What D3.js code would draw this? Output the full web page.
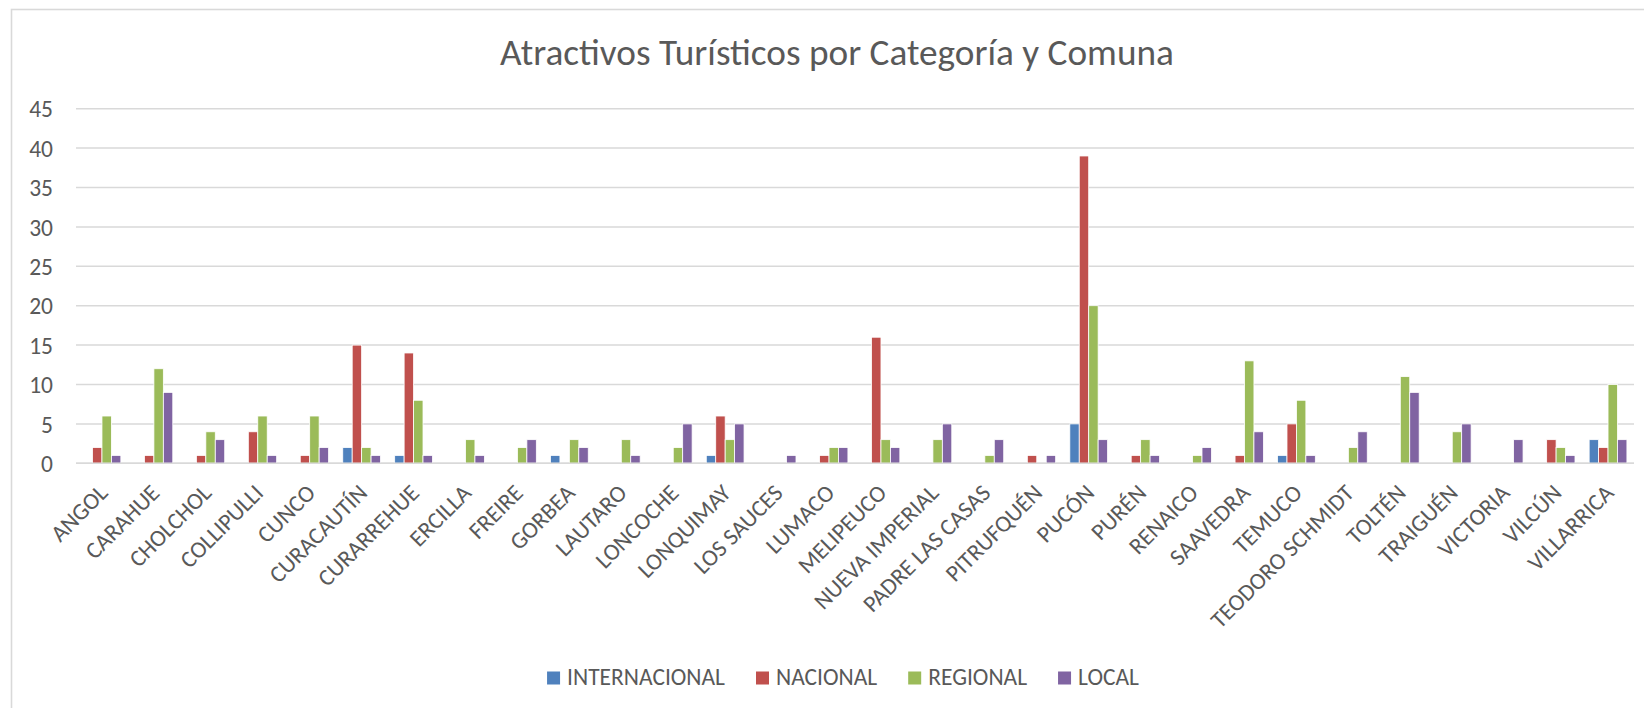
<!DOCTYPE html>
<html>
<head>
<meta charset="utf-8">
<script src="https://cdn.jsdelivr.net/npm/d3@7"></script>
<style>
  html, body { margin: 0; padding: 0; background: #fff; }
  svg { display: block; }
</style>
</head>
<body>
<svg id="chart" width="1644" height="708"></svg>
<script>
const title = "Atractivos Turísticos por Categoría y Comuna";
const comunas = ["ANGOL","CARAHUE","CHOLCHOL","COLLIPULLI","CUNCO","CURACAUTÍN","CURARREHUE","ERCILLA","FREIRE","GORBEA","LAUTARO","LONCOCHE","LONQUIMAY","LOS SAUCES","LUMACO","MELIPEUCO","NUEVA IMPERIAL","PADRE LAS CASAS","PITRUFQUÉN","PUCÓN","PURÉN","RENAICO","SAAVEDRA","TEMUCO","TEODORO SCHMIDT","TOLTÉN","TRAIGUÉN","VICTORIA","VILCÚN","VILLARRICA"];
const seriesNames = ["INTERNACIONAL","NACIONAL","REGIONAL","LOCAL"];
const internacional = [0,0,0,0,0,2,1,0,0,1,0,0,1,0,0,0,0,0,0,5,0,0,0,1,0,0,0,0,0,3];
const nacional      = [2,1,1,4,1,15,14,0,0,0,0,0,6,0,1,16,0,0,1,39,1,0,1,5,0,0,0,0,3,2];
const regional      = [6,12,4,6,6,2,8,3,2,3,3,2,3,0,2,3,3,1,0,20,3,1,13,8,2,11,4,0,2,10];
const local         = [1,9,3,1,2,1,1,1,3,2,1,5,5,1,2,2,5,3,1,3,1,2,4,1,4,9,5,3,1,3];
const yTicks = [0,5,10,15,20,25,30,35,40,45];
const colors = ["#4f81bd","#c0504d","#9bbb59","#8064a2"];

const allSeries = [internacional, nacional, regional, local];

// pick an available font
function fontAvailable(name) {
  const c = document.createElement("canvas").getContext("2d");
  const s = "INTERNACIONAL abcxyz 0123456789";
  for (const base of ["monospace","serif"]) {
    c.font = "40px " + base;
    const w0 = c.measureText(s).width;
    c.font = "40px '" + name + "', " + base;
    if (c.measureText(s).width !== w0) return true;
  }
  return false;
}
const candidates = ["Carlito","Calibri","Liberation Sans Narrow","Open Sans","Noto Sans","Liberation Sans"];
const FONT = "'" + (candidates.find(fontAvailable) || "DejaVu Sans") + "', sans-serif";

const svg = d3.select("#chart");
svg.attr("font-family", FONT);

function fitSize(str, target) {
  const t = svg.append("text").attr("font-size", 100).text(str);
  const w = t.node().getComputedTextLength();
  t.remove();
  return 100 * target / w;
}
const titleSize = fitSize(title, 674);
const labelSize = fitSize("INTERNACIONAL", 158);
const textColor = "#595959";

// chart border
svg.append("rect").attr("x", 11.5).attr("y", 9.5).attr("width", 1700).attr("height", 800)
  .attr("fill", "none").attr("stroke", "#d9d9d9").attr("stroke-width", 1.6);

const plot = { left: 76, right: 1634, top: 108.7, bottom: 463.3 };

const x = d3.scaleBand().domain(comunas).range([plot.left, plot.right]).paddingInner(0).paddingOuter(0);
const xInner = d3.scaleBand().domain(seriesNames).range([0, x.bandwidth()]).paddingInner(0).paddingOuter(0.75 / 4 * 4 / 5.5 * 5.5 / 4 * 0); // placeholder
// group of 4 bars with 150% gap: bar = band / 5.5
const barW = x.bandwidth() / 5.5;
const xIn = d3.scaleBand().domain(seriesNames).range([barW * 0.75, barW * 4.75]);

const y = d3.scaleLinear().domain([0, 45]).range([plot.bottom, plot.top]);

// gridlines
svg.append("g").selectAll("line").data(yTicks).join("line")
  .attr("x1", plot.left).attr("x2", plot.right)
  .attr("y1", d => y(d)).attr("y2", d => y(d))
  .attr("stroke", "#d9d9d9").attr("stroke-width", 1.5);

// y axis labels
const yAxis = d3.axisLeft(y).tickValues(yTicks).tickSize(0).tickPadding(0);
const yg = svg.append("g").attr("transform", `translate(${plot.left - 23},0)`).call(yAxis);
yg.select(".domain").remove();
yg.selectAll("text").attr("font-size", labelSize).attr("fill", textColor)
  .attr("font-family", FONT).attr("dy", "0.35em");

// bars
const groups = svg.append("g").selectAll("g").data(comunas).join("g")
  .attr("transform", d => `translate(${x(d)},0)`);
groups.selectAll("rect").data((d, i) => seriesNames.map((s, k) => ({ s, k, v: allSeries[k][i] })))
  .join("rect")
  .attr("x", d => xIn(d.s)).attr("width", xIn.bandwidth())
  .attr("y", d => y(d.v)).attr("height", d => y(0) - y(d.v))
  .attr("fill", d => colors[d.k])
  .attr("stroke", "#ffffff").attr("stroke-width", d => d.v > 0 ? 0.8 : 0);

// x axis line
svg.append("line").attr("x1", plot.left).attr("x2", plot.right)
  .attr("y1", y(0)).attr("y2", y(0)).attr("stroke", "#d9d9d9").attr("stroke-width", 1.5);

// x labels
svg.append("g").selectAll("text").data(comunas).join("text")
  .attr("transform", d => `translate(${x(d) + x.bandwidth() / 2 + 7},${plot.bottom + 31}) rotate(-45)`)
  .attr("text-anchor", "end")
  .attr("font-size", labelSize).attr("fill", textColor)
  .text(d => d);

// title
svg.append("text").attr("x", 837).attr("y", 65).attr("text-anchor", "middle")
  .attr("font-size", titleSize).attr("fill", textColor).text(title);

// legend
const leg = svg.append("g");
let cx = 0;
const items = [];
seriesNames.forEach((s, k) => {
  const g = leg.append("g").attr("transform", `translate(${cx},0)`);
  g.append("rect").attr("x", 0).attr("y", 671.5).attr("width", 13).attr("height", 13).attr("fill", colors[k]);
  const t = g.append("text").attr("x", 20).attr("y", 684.5).attr("font-size", labelSize).attr("fill", textColor).text(s);
  const w = t.node().getComputedTextLength();
  cx += 20 + w + 31;
});
const totalW = cx - 31;
leg.attr("transform", `translate(${843 - totalW / 2},0)`);
</script>
</body>
</html>
